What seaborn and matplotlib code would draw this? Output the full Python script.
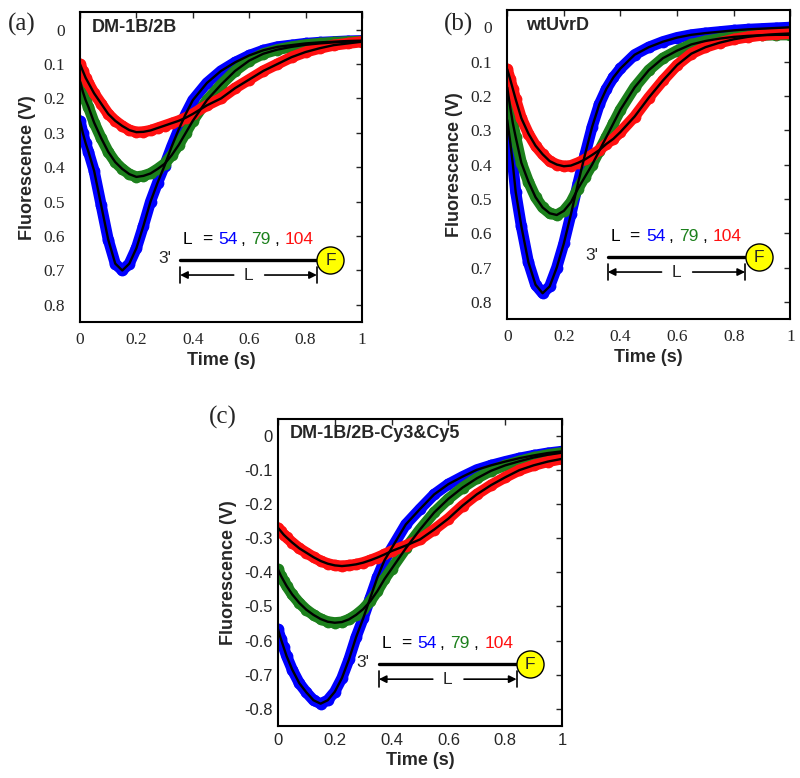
import matplotlib
matplotlib.use("Agg")
import matplotlib.pyplot as plt
import pandas as pd
import seaborn as sns

sns.set_style("white")
plt.rcParams['font.family'] = ['Liberation Sans', 'DejaVu Sans']

# time points (s)
time_s = [0, 0.01, 0.02, 0.03, 0.05, 0.075, 0.1, 0.125, 0.15, 0.175, 0.2, 0.225,
          0.25, 0.275, 0.3, 0.325, 0.35, 0.375, 0.4, 0.45, 0.5, 0.55, 0.6, 0.65,
          0.7, 0.75, 0.8, 0.85, 0.9, 0.95, 1.0]

# (a) DM-1B/2B
blue_a = [0.265, 0.30, 0.33, 0.355, 0.41, 0.51, 0.61, 0.68, 0.70, 0.68, 0.635, 0.57,
          0.50, 0.445, 0.395, 0.34, 0.29, 0.245, 0.205, 0.155, 0.12, 0.095, 0.075, 0.06,
          0.05, 0.045, 0.04, 0.037, 0.035, 0.033, 0.032]
green_a = [0.15, 0.18, 0.205, 0.225, 0.27, 0.315, 0.355, 0.385, 0.405, 0.42, 0.428, 0.425,
           0.418, 0.405, 0.39, 0.365, 0.335, 0.30, 0.265, 0.205, 0.16, 0.12, 0.09, 0.07,
           0.058, 0.05, 0.044, 0.04, 0.037, 0.035, 0.034]
red_a = [0.10, 0.12, 0.14, 0.155, 0.185, 0.215, 0.245, 0.265, 0.28, 0.292, 0.298, 0.297,
         0.293, 0.286, 0.279, 0.272, 0.265, 0.256, 0.245, 0.22, 0.20, 0.17, 0.145, 0.12,
         0.10, 0.08, 0.065, 0.054, 0.045, 0.04, 0.035]

# (b) wtUvrD
blue_b = [0.27, 0.33, 0.40, 0.48, 0.58, 0.685, 0.75, 0.775, 0.755, 0.70, 0.63, 0.545,
          0.455, 0.37, 0.29, 0.225, 0.18, 0.146, 0.12, 0.08, 0.058, 0.042, 0.03, 0.022,
          0.017, 0.013, 0.009, 0.006, 0.004, 0.002, 0.0]
green_b = [0.175, 0.23, 0.28, 0.32, 0.395, 0.45, 0.495, 0.525, 0.542, 0.547, 0.535, 0.51,
           0.47, 0.435, 0.40, 0.36, 0.32, 0.28, 0.24, 0.175, 0.125, 0.09, 0.068, 0.05,
           0.04, 0.033, 0.028, 0.025, 0.023, 0.022, 0.022]
red_b = [0.122, 0.15, 0.18, 0.21, 0.265, 0.31, 0.345, 0.37, 0.39, 0.40, 0.405, 0.403,
         0.395, 0.385, 0.372, 0.358, 0.34, 0.325, 0.305, 0.26, 0.205, 0.155, 0.11, 0.077,
         0.058, 0.045, 0.035, 0.028, 0.023, 0.02, 0.018]

# (c) DM-1B/2B-Cy3&Cy5
blue_c = [-0.567, -0.595, -0.62, -0.645, -0.685, -0.725, -0.752, -0.775, -0.785, -0.775,
          -0.75, -0.71, -0.655, -0.59, -0.535, -0.475, -0.415, -0.365, -0.33, -0.26,
          -0.215, -0.172, -0.142, -0.12, -0.1, -0.087, -0.076, -0.066, -0.058, -0.051, -0.046]
green_c = [-0.392, -0.41, -0.425, -0.44, -0.465, -0.49, -0.51, -0.525, -0.537, -0.545,
           -0.548, -0.546, -0.538, -0.525, -0.508, -0.485, -0.455, -0.42, -0.39, -0.33,
           -0.275, -0.225, -0.185, -0.152, -0.125, -0.103, -0.087, -0.075, -0.064, -0.056, -0.05]
red_c = [-0.27, -0.28, -0.29, -0.298, -0.313, -0.33, -0.343, -0.356, -0.367, -0.375,
         -0.38, -0.382, -0.38, -0.377, -0.372, -0.365, -0.357, -0.348, -0.338, -0.322,
         -0.304, -0.275, -0.243, -0.205, -0.172, -0.145, -0.122, -0.101, -0.087, -0.076, -0.068]

lengths = ['54', '79', '104']
colors = {'54': '#0000ff', '79': '#1c801c', '104': '#ff1010'}

x_ticks = [0, 0.2, 0.4, 0.6, 0.8, 1]
x_labels = ['0', '0.2', '0.4', '0.6', '0.8', '1']
y_ticks_ab = [0, 0.1, 0.2, 0.3, 0.4, 0.5, 0.6, 0.7, 0.8]
y_labels_ab = ['0', '0.1', '0.2', '0.3', '0.4', '0.5', '0.6', '0.7', '0.8']
y_ticks_c = [-0.8, -0.7, -0.6, -0.5, -0.4, -0.3, -0.2, -0.1, 0]
y_labels_c = ['-0.8', '-0.7', '-0.6', '-0.5', '-0.4', '-0.3', '-0.2', '-0.1', '0']


def make_df(blue, green, red):
    return pd.DataFrame({
        'Time': time_s * 3,
        'F': blue + green + red,
        'L': [lengths[0]] * len(time_s) + [lengths[1]] * len(time_s) + [lengths[2]] * len(time_s),
    })


def draw_panel(ax, df, title, title_x, yticks, ylabels, ylim, tick_font, tick_size, ypad, xpad):
    # data points (thick dotted band) then black fit on top
    sns.lineplot(data=df, x='Time', y='F', hue='L', palette=colors, sort=False,
                 estimator=None, lw=8, marker='o', ms=8.5, markeredgewidth=0,
                 legend=False, ax=ax)
    sns.lineplot(data=df, x='Time', y='F', hue='L', palette={k: 'k' for k in lengths},
                 sort=False, estimator=None, lw=1.7, legend=False, ax=ax)
    ax.set_xlim(0, 1)
    ax.set_ylim(*ylim)
    ax.set_xticks(x_ticks)
    ax.set_xticklabels(x_labels, fontfamily=tick_font, fontsize=tick_size)
    ax.set_yticks(yticks)
    ax.set_yticklabels(ylabels, fontfamily=tick_font, fontsize=tick_size)
    ax.tick_params(direction='in', length=4, width=1, top=True, right=True)
    ax.tick_params(axis='y', pad=ypad)
    ax.tick_params(axis='x', pad=xpad)
    for sp in ax.spines.values():
        sp.set_linewidth(1.5)
        sp.set_color('k')
    ax.set_xlabel('Time (s)', fontsize=13, fontweight='bold', labelpad=3)
    ax.set_ylabel('Fluorescence (V)', fontsize=13, fontweight='bold', labelpad=5)
    ax.text(title_x, 0.95, title, transform=ax.transAxes, fontsize=13,
            fontweight='bold', va='center', ha='left')

    # schematic: L = 54, 79, 104 with DNA line and fluorophore
    tr = ax.transAxes
    ty = 0.268
    pieces = [('L', 0.365, 'k'), ('=', 0.432, 'k'), ('54', 0.49, colors['54']),
              (',', 0.568, 'k'), ('79', 0.607, colors['79']), (',', 0.688, 'k'),
              ('104', 0.726, colors['104'])]
    for s, x, c in pieces:
        ax.text(x, ty, s, transform=tr, color=c, fontsize=12.5, ha='left', va='center')
    ax.plot([0.355, 0.84], [0.20, 0.20], transform=tr, color='k', lw=2.4)
    ax.plot([0.888], [0.20], transform=tr, marker='o', ms=19.5, mfc='#ffff00',
            mec='k', mew=1, clip_on=False)
    ax.text(0.888, 0.20, 'F', transform=tr, fontsize=12.5, ha='center', va='center')
    ax.text(0.30, 0.205, "3'", transform=tr, fontsize=12.5, ha='center', va='center')
    arrow = dict(arrowstyle='-|>', color='k', lw=1.2, shrinkA=0, shrinkB=0,
                 mutation_scale=11)
    ax.annotate('', xy=(0.355, 0.152), xytext=(0.545, 0.152), xycoords=tr,
                textcoords=tr, arrowprops=arrow)
    ax.annotate('', xy=(0.84, 0.152), xytext=(0.655, 0.152), xycoords=tr,
                textcoords=tr, arrowprops=arrow)
    ax.text(0.597, 0.15, 'L', transform=tr, fontsize=12.5, ha='center', va='center')
    for xb in (0.355, 0.84):
        ax.plot([xb, xb], [0.125, 0.178], transform=tr, color='k', lw=1.2)


fig = plt.figure(figsize=(8, 7.78), dpi=100)
ax_a = fig.add_axes([0.100, 0.586, 0.3525, 0.398])
ax_b = fig.add_axes([0.634, 0.590, 0.354, 0.397])
ax_c = fig.add_axes([0.3475, 0.067, 0.355, 0.395])

draw_panel(ax_a, make_df(blue_a, green_a, red_a), 'DM-1B/2B', 0.043, y_ticks_ab, y_labels_ab,
           (0.85, -0.05), 'Liberation Serif', 12.5, 11, 7)
draw_panel(ax_b, make_df(blue_b, green_b, red_b), 'wtUvrD', 0.067, y_ticks_ab, y_labels_ab,
           (0.85, -0.05), 'Liberation Serif', 12.5, 11, 7)
draw_panel(ax_c, make_df(blue_c, green_c, red_c), 'DM-1B/2B-Cy3&Cy5', 0.042, y_ticks_c, y_labels_c,
           (-0.85, 0.05), 'Liberation Sans', 12, 4, 5)

fig.text(0.027, 0.968, '(a)', fontsize=18, fontfamily='Liberation Serif', ha='center', va='center')
fig.text(0.573, 0.968, '(b)', fontsize=18, fontfamily='Liberation Serif', ha='center', va='center')
fig.text(0.279, 0.464, '(c)', fontsize=18, fontfamily='Liberation Serif', ha='center', va='center')

fig.savefig('out.png', dpi=100)
